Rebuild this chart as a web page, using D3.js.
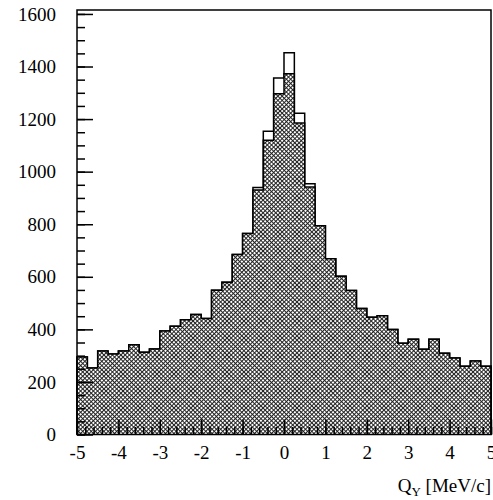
<!DOCTYPE html>
<html lang="en">
<head>
  <meta charset="UTF-8">
  <title>Q_Y histogram</title>
  <script src="https://cdnjs.cloudflare.com/ajax/libs/d3/7.8.5/d3.min.js"></script>
  <style>
    body {
      margin: 0;
      background: white;
    }
    svg {
      display: block;
      background: white;
    }
    text {
      font-family: "Liberation Serif", "DejaVu Serif", serif;
      fill: black;
    }
    .tick line {
      stroke: black;
      stroke-width: 1.5;
    }
    .domain {
      display: none;
    }
  </style>
</head>
<body>
  <script>
    // bin edges, 0.25 MeV/c wide
    var binEdges = [-5, -4.75, -4.5, -4.25, -4, -3.75, -3.5, -3.25, -3, -2.75,
      -2.5, -2.25, -2, -1.75, -1.5, -1.25, -1, -0.75, -0.5, -0.25,
      0, 0.25, 0.5, 0.75, 1, 1.25, 1.5, 1.75, 2, 2.25,
      2.5, 2.75, 3, 3.25, 3.5, 3.75, 4, 4.25, 4.5, 4.75, 5];

    // open histogram (all events)
    var allCounts = [295, 253, 318, 306, 318, 341, 313, 325, 394, 412,
      437, 457, 441, 549, 579, 685, 765, 940, 1154, 1356,
      1452, 1222, 954, 794, 669, 602, 548, 479, 446, 452,
      399, 347, 362, 324, 362, 309, 291, 260, 280, 260];

    // hatched histogram
    var cutCounts = [295, 253, 318, 306, 318, 341, 313, 325, 394, 412,
      437, 457, 441, 549, 579, 685, 765, 930, 1119, 1296,
      1372, 1185, 942, 794, 669, 602, 548, 479, 446, 452,
      399, 347, 362, 324, 362, 309, 291, 260, 280, 260];

    var xTicks = [-5, -4, -3, -2, -1, 0, 1, 2, 3, 4, 5];
    var yTicks = [0, 200, 400, 600, 800, 1000, 1200, 1400, 1600];

    var w = 493;
    var h = 500;
    var margin = {left: 77, right: 2, top: 10, bottom: 65.5};
    var serif = "Liberation Serif, DejaVu Serif, serif";

    var svg = d3.select("body").append("svg")
      .attr("width", w)
      .attr("height", h);

    var defs = svg.append("defs");
    var pat = defs.append("pattern")
      .attr("id", "hatch")
      .attr("patternUnits", "userSpaceOnUse")
      .attr("width", 3)
      .attr("height", 3)
      .attr("patternTransform", "rotate(45)");
    pat.append("rect")
      .attr("width", 3).attr("height", 3)
      .attr("fill", "white");
    pat.append("rect")
      .attr("width", 3).attr("height", 1)
      .attr("fill", "#222");
    pat.append("rect")
      .attr("width", 1).attr("height", 3)
      .attr("fill", "#222");

    var xScale = d3.scaleLinear()
      .domain([-5, 5])
      .range([margin.left, w - margin.right]);

    var yScale = d3.scaleLinear()
      .domain([0, 1615])
      .range([h - margin.bottom, margin.top]);

    function histPath(counts) {
      var p = d3.path();
      p.moveTo(xScale(binEdges[0]), yScale(0));
      counts.forEach(function(c, i) {
        p.lineTo(xScale(binEdges[i]), yScale(c));
        p.lineTo(xScale(binEdges[i + 1]), yScale(c));
      });
      p.lineTo(xScale(binEdges[binEdges.length - 1]), yScale(0));
      return p.toString();
    }

    svg.append("path")
      .attr("d", histPath(allCounts))
      .attr("fill", "white")
      .attr("stroke", "black")
      .attr("stroke-width", 1.5);

    svg.append("path")
      .attr("d", histPath(cutCounts))
      .attr("fill", "url(#hatch)")
      .attr("stroke", "black")
      .attr("stroke-width", 1.5);

    // minor ticks
    var xMinor = d3.range(51).map(function(i) { return -5 + i * 0.2; });
    var yMinor = d3.range(33).map(function(i) { return i * 50; });

    svg.append("g")
      .attr("transform", "translate(0," + yScale(0) + ")")
      .call(d3.axisBottom(xScale).tickValues(xMinor).tickSize(-7.5).tickFormat(""));

    svg.append("g")
      .attr("transform", "translate(" + xScale(-5) + ",0)")
      .call(d3.axisLeft(yScale).tickValues(yMinor).tickSize(-8).tickFormat(""));

    // major ticks + labels
    svg.append("g")
      .attr("transform", "translate(0," + yScale(0) + ")")
      .call(d3.axisBottom(xScale).tickValues(xTicks).tickSize(-15).tickPadding(11)
        .tickFormat(function(d) { return String(d); }))
      .attr("font-family", serif)
      .attr("font-size", 19);

    svg.append("g")
      .attr("transform", "translate(" + xScale(-5) + ",0)")
      .call(d3.axisLeft(yScale).tickValues(yTicks).tickSize(-16).tickPadding(21)
        .tickFormat(function(d) { return String(d); }))
      .attr("font-family", serif)
      .attr("font-size", 19);

    // frame
    svg.append("rect")
      .attr("x", xScale(-5))
      .attr("y", margin.top)
      .attr("width", xScale(5) - xScale(-5))
      .attr("height", yScale(0) - margin.top)
      .attr("fill", "none")
      .attr("stroke", "black")
      .attr("stroke-width", 1.5);

    var title = svg.append("text")
      .attr("x", xScale(5))
      .attr("y", 492)
      .attr("text-anchor", "end")
      .attr("font-family", serif)
      .attr("font-size", 19);
    title.append("tspan").text("Q");
    title.append("tspan").attr("font-size", 13).attr("dy", 4).text("Y");
    title.append("tspan").attr("dy", -4).text(" [MeV/c]");
  </script>
</body>
</html>
